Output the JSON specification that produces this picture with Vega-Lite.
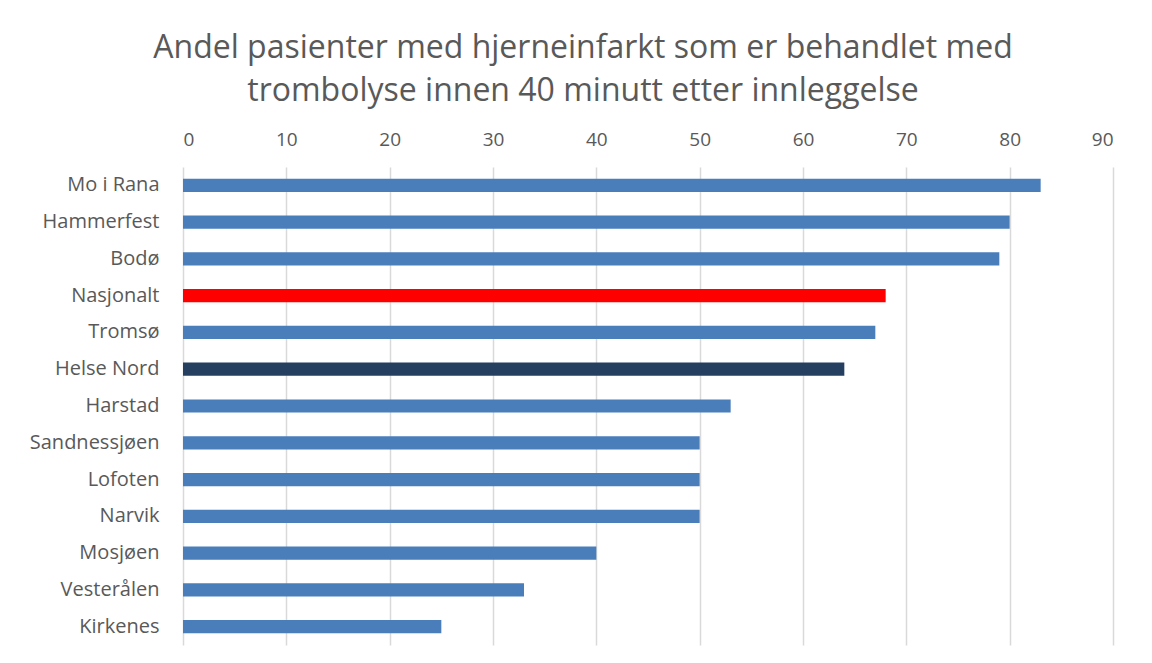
{
  "$schema": "https://vega.github.io/schema/vega-lite/v6.json",
  "width": 930,
  "height": 478,
  "autosize": "none",
  "padding": {"left": 183, "top": 167, "right": 39, "bottom": 18},
  "background": "white",
  "title": {
    "text": ["Andel pasienter med hjerneinfarkt som er behandlet med", "trombolyse innen 40 minutt etter innleggelse"],
    "font": "Open Sans",
    "fontSize": 32,
    "fontWeight": "normal",
    "color": "#595959",
    "lineHeight": 43,
    "anchor": "middle",
    "dx": -65,
    "offset": 22
  },
  "data": {
    "values": [
      {"sted": "Mo i Rana", "andel": 83, "type": "sykehus"},
      {"sted": "Hammerfest", "andel": 80, "type": "sykehus"},
      {"sted": "Bodø", "andel": 79, "type": "sykehus"},
      {"sted": "Nasjonalt", "andel": 68, "type": "nasjonalt"},
      {"sted": "Tromsø", "andel": 67, "type": "sykehus"},
      {"sted": "Helse Nord", "andel": 64, "type": "region"},
      {"sted": "Harstad", "andel": 53, "type": "sykehus"},
      {"sted": "Sandnessjøen", "andel": 50, "type": "sykehus"},
      {"sted": "Lofoten", "andel": 50, "type": "sykehus"},
      {"sted": "Narvik", "andel": 50, "type": "sykehus"},
      {"sted": "Mosjøen", "andel": 40, "type": "sykehus"},
      {"sted": "Vesterålen", "andel": 33, "type": "sykehus"},
      {"sted": "Kirkenes", "andel": 25, "type": "sykehus"}
    ]
  },
  "mark": {"type": "bar"},
  "encoding": {
    "y": {
      "field": "sted",
      "type": "nominal",
      "sort": null,
      "scale": {"paddingInner": 0.64, "paddingOuter": 0.32},
      "axis": {
        "title": null,
        "ticks": false,
        "domain": false,
        "labelPadding": 24,
        "labelFont": "Open Sans",
        "labelFontSize": 20,
        "labelColor": "#595959"
      }
    },
    "x": {
      "field": "andel",
      "type": "quantitative",
      "scale": {"domain": [0, 90], "nice": false},
      "axis": {
        "orient": "top",
        "title": null,
        "values": [0, 10, 20, 30, 40, 50, 60, 70, 80, 90],
        "ticks": false,
        "domain": false,
        "grid": true,
        "gridColor": "#d9d9d9",
        "gridWidth": 1.5,
        "labelPadding": 18,
        "labelFont": "Open Sans",
        "labelFontSize": 19,
        "labelColor": "#595959"
      }
    },
    "color": {
      "field": "type",
      "type": "nominal",
      "scale": {"domain": ["sykehus", "nasjonalt", "region"], "range": ["#4a7ebb", "#ff0000", "#243f60"]},
      "legend": null
    }
  },
  "config": {"view": {"stroke": null}}
}
